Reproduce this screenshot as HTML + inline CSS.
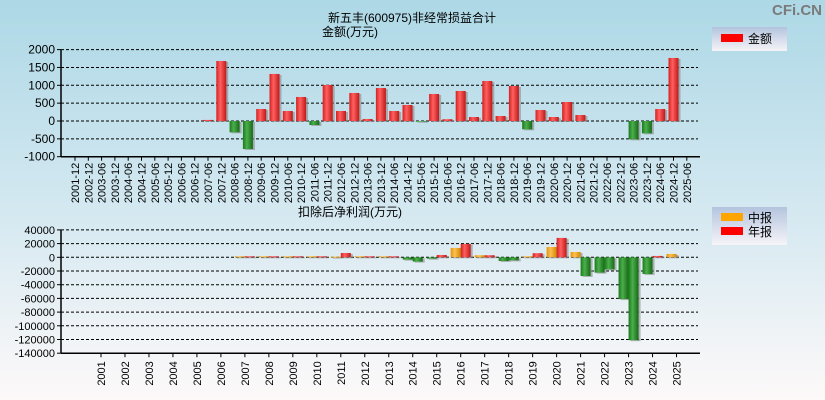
<!DOCTYPE html>
<html><head><meta charset="utf-8"><style>
body{margin:0;width:825px;height:400px;overflow:hidden;font-family:"Liberation Sans","Noto Sans CJK SC",sans-serif}
svg{display:block}
</style></head><body>
<svg id="c" width="825" height="400" xmlns="http://www.w3.org/2000/svg">
<defs>
<linearGradient id="bg" x1="0" y1="0" x2="0" y2="1"><stop offset="0" stop-color="#add8e6"/><stop offset="0.55" stop-color="#d6e9f1"/><stop offset="1" stop-color="#fdf9f9"/></linearGradient>
<linearGradient id="gr" x1="0" x2="1"><stop offset="0" stop-color="#d42020"/><stop offset="0.4" stop-color="#ff6060"/><stop offset="1" stop-color="#c01818"/></linearGradient>
<linearGradient id="gg" x1="0" x2="1"><stop offset="0" stop-color="#1a7a1a"/><stop offset="0.4" stop-color="#4cae4c"/><stop offset="1" stop-color="#156a15"/></linearGradient>
<linearGradient id="go" x1="0" x2="1"><stop offset="0" stop-color="#e0940a"/><stop offset="0.4" stop-color="#ffc050"/><stop offset="1" stop-color="#d08a00"/></linearGradient>
<linearGradient id="lg" x1="0" y1="0" x2="0" y2="1"><stop offset="0" stop-color="#b4c4de"/><stop offset="1" stop-color="#f6f4f8"/></linearGradient>
</defs>
<rect width="825" height="400" fill="url(#bg)"/>
<text x="797" y="15" font-size="15" font-weight="bold" fill="#7a7a7a" text-anchor="middle">CFi.CN</text>
<text x="412" y="22" font-size="12" text-anchor="middle">新五丰(600975)非经常损益合计</text>
<text x="350" y="36" font-size="12" text-anchor="middle">金额(万元)</text>
<text x="350" y="216" font-size="12" text-anchor="middle">扣除后净利润(万元)</text>
<g><rect x="712" y="27" width="75" height="24" fill="url(#lg)"/><rect x="721" y="34" width="22" height="8" fill="#f00"/><text x="748" y="43" font-size="12">金额</text></g>
<g><rect x="712" y="207" width="75" height="38" fill="url(#lg)"/><rect x="721" y="213" width="22" height="8" fill="#ffa500"/><text x="748" y="222" font-size="12">中报</text><rect x="721" y="227" width="22" height="8" fill="#f00"/><text x="748" y="236" font-size="12">年报</text></g>
<g id="top"></g><g id="bot"></g>
</svg>
<script>
const topCats=["2001-12","2002-12","2003-06","2003-12","2004-06","2004-12","2005-06","2005-12","2006-06","2006-12","2007-06","2007-12","2008-06","2008-12","2009-06","2009-12","2010-06","2010-12","2011-06","2011-12","2012-06","2012-12","2013-06","2013-12","2014-06","2014-12","2015-06","2015-12","2016-06","2016-12","2017-06","2017-12","2018-06","2018-12","2019-06","2019-12","2020-06","2020-12","2021-06","2021-12","2022-06","2022-12","2023-06","2023-12","2024-06","2024-12","2025-06"];
const topVals=[0,0,0,0,0,0,0,0,0,0,30,1680,-318,-785,336,1318,280,673,-112,1009,280,785,56,925,280,449,-20,757,50,841,112,1121,140,981,-234,308,112,533,168,0,0,0,-514,-346,336,1766,0];
const topTicks=[2000,1500,1000,500,0,-500,-1000];
const botCats=["2001","2002","2003","2004","2005","2006","2007","2008","2009","2010","2011","2012","2013","2014","2015","2016","2017","2018","2019","2020","2021","2022","2023","2024","2025"];
const midVals=[null,null,null,null,null,null,1500,1500,1500,1500,1000,1500,1500,-3400,-2000,13700,3000,-5400,1500,15100,7800,-22400,-61000,-24400,4900];
const annVals=[null,null,null,null,null,null,1500,1500,1500,1500,6300,1500,1500,-6300,3400,19500,3000,-4500,6000,28300,-27300,-17600,-121000,2000,null];
const botTicks=[40000,20000,0,-20000,-40000,-60000,-80000,-100000,-120000,-140000];
const NS="http://www.w3.org/2000/svg";
function mk(p,t,a){const e=document.createElementNS(NS,t);for(const k in a)e.setAttribute(k,a[k]);p.appendChild(e);return e;}
const L=61,R=700;
// top chart
const tg=document.getElementById('top');
const ty=v=>121-(v/500)*17.85;
const tx=i=>75+i*13.3;
topTicks.forEach(t=>{
 const y=ty(t);
 const ln=mk(tg,'line',{x1:L,x2:R-2,y1:y,y2:y,stroke:'#000','stroke-dasharray':'3,2','stroke-width':1});
 
 
 const tk=mk(tg,'line',{x1:L-4,x2:L,y1:y,y2:y,stroke:'#000'});
 
 
 const tx_=mk(tg,'text',{x:L-6,y:y+4,'font-size':12,'text-anchor':'end'});tx_.textContent=t;
 
 
});
mk(tg,'line',{x1:L,x2:L,y1:ty(2000),y2:ty(-1000),stroke:'#000','stroke-width':1.5});
mk(tg,'line',{x1:L,x2:R,y1:ty(-1000),y2:ty(-1000),stroke:'#000','stroke-width':1.5});
topCats.forEach((c,i)=>{
 const x=tx(i);
 mk(tg,'line',{x1:x,x2:x,y1:ty(-1000),y2:ty(-1000)+4,stroke:'#000'});
 const t=mk(tg,'text',{x:0,y:0,'font-size':11,'text-anchor':'end',transform:`translate(${x+4},${ty(-1000)+6}) rotate(-90)`});
 t.textContent=c;
 
 
 const v=topVals[i];
 if(v){
  const y0=ty(0),y1=ty(v);
  mk(tg,'rect',{x:x-3,y:Math.min(y0,y1)+1,width:10,height:Math.abs(y1-y0),fill:'#888',opacity:0.6});
  const b=mk(tg,'rect',{x:x-5,y:Math.min(y0,y1),width:10,height:Math.abs(y1-y0),fill:v>0?'url(#gr)':'url(#gg)'});
  
  
 }
});
// bottom chart
const bg=document.getElementById('bot');
const by=v=>257.3-(v/20000)*13.7;
const bx=i=>101+i*23.98;
botTicks.forEach(t=>{
 const y=by(t);
 if(t>-140000){const ln=mk(bg,'line',{x1:L,x2:R-2,y1:y,y2:y,stroke:'#000','stroke-dasharray':'3,2'});
 
 }
 mk(bg,'line',{x1:L-4,x2:L,y1:y,y2:y,stroke:'#000'});
 const tt=mk(bg,'text',{x:L-6,y:y+4,'font-size':11,'text-anchor':'end'});tt.textContent=t;
 
 
});
mk(bg,'line',{x1:L,x2:L,y1:by(40000),y2:by(-140000),stroke:'#000','stroke-width':1.5});
mk(bg,'line',{x1:L,x2:R,y1:by(-140000),y2:by(-140000),stroke:'#000','stroke-width':1.5});
function bbar(x,v,fill,name){
 const y0=by(0),y1=by(v);
 mk(bg,'rect',{x:x+2,y:Math.min(y0,y1)+1,width:10,height:Math.max(1,Math.abs(y1-y0)),fill:'#888',opacity:0.6});
 const b=mk(bg,'rect',{x:x,y:Math.min(y0,y1),width:10,height:Math.max(1,Math.abs(y1-y0)),fill:fill});
 
 
}
botCats.forEach((c,i)=>{
 const x=bx(i);
 mk(bg,'line',{x1:x,x2:x,y1:by(-140000),y2:by(-140000)+4,stroke:'#000'});
 const t=mk(bg,'text',{x:0,y:0,'font-size':11,'text-anchor':'end',transform:`translate(${x+4},${by(-140000)+8}) rotate(-90)`});
 t.textContent=c;
 
 
 const m=midVals[i],a=annVals[i];
 if(m!==null)bbar(x-10,m,m>=0?'url(#go)':'url(#gg)','mid-bar-'+c);
 if(a!==null)bbar(x,a,a>=0?'url(#gr)':'url(#gg)','annual-bar-'+c);
});
</script>
</body></html>
